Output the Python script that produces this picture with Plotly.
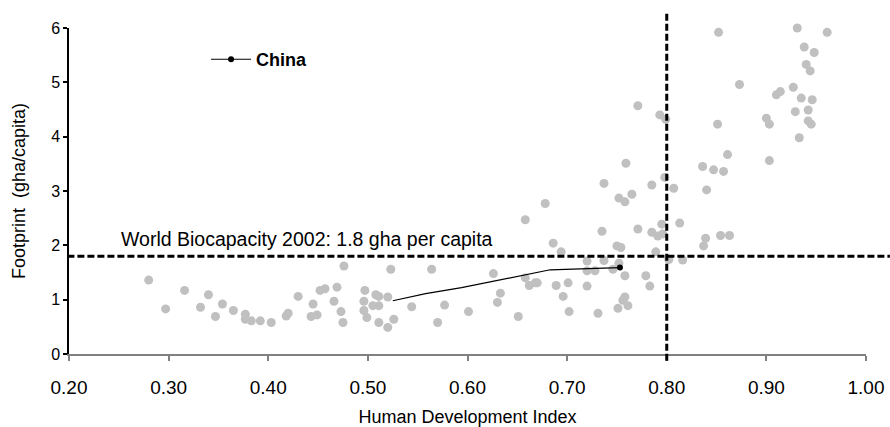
import plotly.graph_objects as go

# Countries: Human Development Index vs Ecological Footprint (gha/capita)
hdi = [0.280, 0.297, 0.316, 0.340, 0.332, 0.347, 0.354, 0.365, 0.377, 0.377,
       0.383, 0.392, 0.403, 0.418, 0.420, 0.476, 0.523, 0.564, 0.430, 0.445,
       0.452, 0.457, 0.469, 0.466, 0.473, 0.475, 0.443, 0.449, 0.497, 0.496,
       0.496, 0.499, 0.508, 0.511, 0.505, 0.511, 0.520, 0.511, 0.520, 0.526,
       0.544, 0.570, 0.577, 0.601, 0.626, 0.633, 0.630, 0.651, 0.658, 0.662,
       0.668, 0.670, 0.694, 0.689, 0.701, 0.696, 0.702, 0.720, 0.720, 0.720,
       0.728, 0.737, 0.735, 0.750, 0.754, 0.752, 0.746, 0.758, 0.758, 0.756,
       0.761, 0.751, 0.731, 0.771, 0.779, 0.783, 0.785, 0.791, 0.796, 0.795,
       0.789, 0.802, 0.813, 0.816, 0.839, 0.837, 0.854, 0.863, 0.771, 0.793,
       0.799, 0.759, 0.737, 0.752, 0.758, 0.765, 0.785, 0.798, 0.807, 0.836,
       0.840, 0.847, 0.857, 0.861, 0.903, 0.852, 0.931, 0.961, 0.938, 0.948,
       0.940, 0.944, 0.873, 0.927, 0.910, 0.914, 0.935, 0.946, 0.929, 0.942,
       0.900, 0.903, 0.851, 0.942, 0.945, 0.933, 0.678, 0.658, 0.686]
footprint = [1.36, 0.83, 1.17, 1.09, 0.86, 0.69, 0.92, 0.80, 0.73, 0.64,
             0.61, 0.61, 0.58, 0.70, 0.75, 1.62, 1.56, 1.56, 1.06, 0.92,
             1.17, 1.20, 1.23, 0.97, 0.78, 0.58, 0.69, 0.72, 1.17, 0.97,
             0.80, 0.67, 1.09, 1.06, 0.89, 0.89, 1.05, 0.58, 0.49, 0.64,
             0.87, 0.58, 0.90, 0.78, 1.48, 1.12, 0.95, 0.69, 1.40, 1.26,
             1.31, 1.31, 1.88, 1.26, 1.31, 1.06, 0.78, 1.71, 1.53, 1.25,
             1.53, 1.72, 2.26, 1.99, 1.96, 1.67, 1.56, 1.44, 1.05, 0.99,
             0.89, 0.84, 0.75, 2.30, 1.44, 1.25, 2.24, 2.17, 2.21, 2.39,
             1.88, 1.74, 2.41, 1.73, 2.13, 1.99, 2.18, 2.18, 4.57, 4.40,
             4.32, 3.51, 3.14, 2.87, 2.80, 2.94, 3.11, 3.25, 3.05, 3.45,
             3.02, 3.39, 3.36, 3.67, 3.56, 5.92, 6.00, 5.92, 5.65, 5.55,
             5.33, 5.21, 4.96, 4.91, 4.77, 4.83, 4.71, 4.68, 4.46, 4.49,
             4.34, 4.23, 4.23, 4.29, 4.23, 3.98, 2.77, 2.47, 2.04]

# China trajectory
china_hdi = [0.525, 0.558, 0.594, 0.627, 0.683, 0.721, 0.753]
china_fp = [0.98, 1.11, 1.22, 1.34, 1.55, 1.57, 1.59]

world_biocapacity = 1.8
hdi_threshold = 0.80

x_ticks = [0.2, 0.3, 0.4, 0.5, 0.6, 0.7, 0.8, 0.9, 1.0]
x_tick_labels = ["0.20", "0.30", "0.40", "0.50", "0.60", "0.70", "0.80", "0.90", "1.00"]
y_ticks = [0, 1, 2, 3, 4, 5, 6]
y_tick_labels = ["0", "1", "2", "3", "4", "5", "6"]

FONT = "Arial, 'Liberation Sans', sans-serif"

fig = go.Figure()
fig.add_trace(go.Scatter(
    x=hdi, y=footprint, mode="markers",
    marker=dict(color="#c0c0c0", size=9, line=dict(width=0)),
    showlegend=False, cliponaxis=False, hoverinfo="x+y"))
fig.add_trace(go.Scatter(
    x=china_hdi, y=china_fp, mode="lines",
    line=dict(color="black", width=1.2), showlegend=False))
fig.add_trace(go.Scatter(
    x=china_hdi[-1:], y=china_fp[-1:], mode="lines+markers",
    line=dict(color="black", width=1.2),
    marker=dict(color="black", size=6),
    name="<b>China</b>", showlegend=True))

dash = "7px,3px"
fig.add_shape(type="line", xref="paper", yref="y",
              x0=-0.002, x1=1.03, y0=world_biocapacity, y1=world_biocapacity,
              line=dict(color="black", width=3, dash=dash))
fig.add_shape(type="line", xref="x", yref="paper",
              x0=hdi_threshold, x1=hdi_threshold, y0=-0.021, y1=1.052,
              line=dict(color="black", width=3, dash=dash))

fig.add_annotation(x=0.250, y=2.12, xref="x", yref="y",
                   text="World Biocapacity 2002: 1.8 gha per capita",
                   showarrow=False, xanchor="left", yanchor="middle",
                   font=dict(family=FONT, size=19.5, color="black"))

fig.update_layout(
    width=890, height=427,
    margin=dict(l=69, r=24, t=28, b=73, autoexpand=False),
    paper_bgcolor="white", plot_bgcolor="white",
    font=dict(family=FONT, color="black"),
    legend=dict(x=0.172, y=0.960, xanchor="left", yanchor="top",
                bgcolor="rgba(0,0,0,0)", font=dict(size=18, color="black"),
                itemwidth=40),
    xaxis=dict(range=[0.2, 1.0], tickvals=x_ticks, ticktext=x_tick_labels,
               showgrid=False, zeroline=False, showline=True,
               linecolor="#808080", linewidth=2,
               ticks="outside", ticklen=5, tickcolor="#808080", tickwidth=1.5,
               ticklabelstandoff=10,
               tickfont=dict(size=19, color="black"),
               title=dict(text="Human Development Index",
                          font=dict(size=18, color="black"), standoff=16),
               automargin=False),
    yaxis=dict(range=[0, 6], tickvals=y_ticks, ticktext=y_tick_labels,
               showgrid=False, zeroline=False, showline=True,
               linecolor="black", linewidth=1.5,
               ticks="outside", ticklen=4, tickcolor="black", tickwidth=1.5,
               tickfont=dict(size=16, color="black"),
               title=dict(text="Footprint\u00a0 (gha/capita)",
                          font=dict(size=18, color="black"), standoff=21),
               automargin=False),
)

fig.write_html("out.html", config={"displayModeBar": False},
               post_script="document.body.style.margin='0';document.body.style.padding='0';")
